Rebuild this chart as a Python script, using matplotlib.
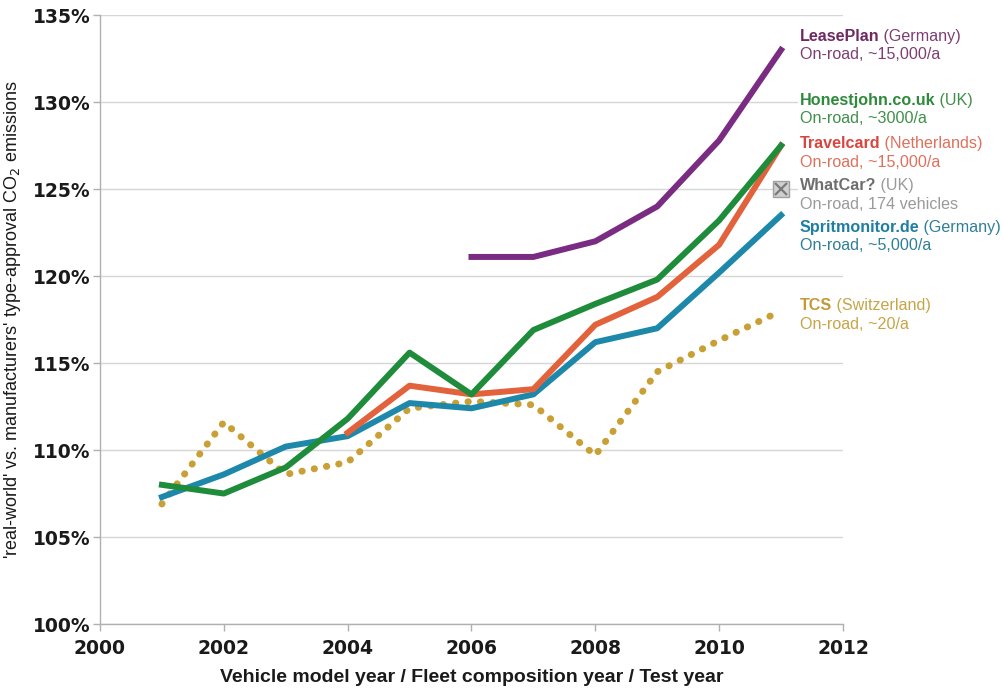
import matplotlib
matplotlib.use('Agg')
import matplotlib.pyplot as plt
from matplotlib.ticker import FuncFormatter

# data (ratio in %)
years = [2001, 2002, 2003, 2004, 2005, 2006, 2007, 2008, 2009, 2010, 2011]
leaseplan = [None, None, None, None, None, 121.1, 121.1, 122.0, 124.0, 127.8, 133.0]
honestjohn = [108.0, 107.5, 109.0, 111.8, 115.6, 113.2, 116.9, 118.4, 119.8, 123.2, 127.5]
travelcard = [None, None, None, 111.0, 113.7, 113.2, 113.5, 117.2, 118.8, 121.8, 127.5]
spritmonitor = [107.3, 108.6, 110.2, 110.8, 112.7, 112.4, 113.2, 116.2, 117.0, 120.2, 123.5]
tcs = [106.9, 111.6, 108.6, 109.3, 112.4, 112.8, 112.6, 109.7, 114.5, 116.3, 118.0]
whatcar_year = 2011
whatcar_val = 125.0

c_purple = '#7a2c82'
c_green = '#1f8c3b'
c_orange = '#e2623c'
c_blue = '#1d88aa'
c_gold = '#c9a035'


def pairs(vals):
    xs = [y for y, v in zip(years, vals) if v is not None]
    ys = [v for v in vals if v is not None]
    return xs, ys


fig = plt.figure(figsize=(10.04, 6.88), dpi=100)
ax = fig.add_axes([0.0996, 0.093, 0.74, 0.885])

ax.plot(*pairs(tcs), color=c_gold, lw=5, linestyle=(0, (0.05, 1.75)),
        dash_capstyle='round')
ax.plot(*pairs(spritmonitor), color=c_blue, lw=4.3)
ax.plot(*pairs(travelcard), color=c_orange, lw=4.3)
ax.plot(*pairs(honestjohn), color=c_green, lw=4.3)
ax.plot(*pairs(leaseplan), color=c_purple, lw=4.3)
ax.plot([whatcar_year], [whatcar_val], marker='s', ms=11, mfc='#cfcfcf',
        markeredgecolor='#a0a0a0', mew=1.0, linestyle='none')
ax.plot([whatcar_year], [whatcar_val], marker='x', ms=9, color='#7a7a7a',
        mew=1.6, linestyle='none')

ax.set_xlim(2000, 2012)
ax.set_ylim(100, 135)
ax.set_xticks(range(2000, 2013, 2))
ax.set_yticks(range(100, 136, 5))
ax.yaxis.set_major_formatter(FuncFormatter(lambda v, p: f'{v:.0f}%'))

ax.grid(axis='y', color='#d6d6d6', lw=1.0)
ax.set_axisbelow(True)
for s in ['top', 'right']:
    ax.spines[s].set_visible(False)
for s in ['left', 'bottom']:
    ax.spines[s].set_color('#b0b0b0')
    ax.spines[s].set_linewidth(1.0)
ax.tick_params(axis='both', colors='#b0b0b0', length=5, width=1.0,
               labelcolor='#1a1a1a', labelsize=13.5)
ax.tick_params(axis='x', pad=6)
ax.tick_params(axis='y', pad=2)
for lab in ax.get_xticklabels() + ax.get_yticklabels():
    lab.set_fontweight('bold')

ax.set_xlabel('Vehicle model year / Fleet composition year / Test year',
              fontsize=14, fontweight='bold', color='#1a1a1a', labelpad=8,
              family=['Liberation Sans Narrow', 'Liberation Sans', 'DejaVu Sans'])
ax.set_ylabel("'real-world' vs. manufacturers' type-approval CO$_2$ emissions",
              fontsize=13, color='#1a1a1a', labelpad=7,
              family=['Liberation Sans', 'DejaVu Sans'])

# series labels on the right
labels = [
    ('LeasePlan', ' (Germany)', 'On-road, ~15,000/a', 133.8, '#6e2a62', '#7d3f73'),
    ('Honestjohn.co.uk', ' (UK)', 'On-road, ~3000/a', 130.1, '#2f8a3c', '#3f8f4a'),
    ('Travelcard', ' (Netherlands)', 'On-road, ~15,000/a', 127.6, '#d9463f', '#e0705c'),
    ('WhatCar?', ' (UK)', 'On-road, 174 vehicles', 125.2, '#6e6e6e', '#9a9a9a'),
    ('Spritmonitor.de', ' (Germany)', 'On-road, ~5,000/a', 122.8, '#1f7fa0', '#2f7f98'),
    ('TCS', ' (Switzerland)', 'On-road, ~20/a', 118.3, '#c59a35', '#c8a448'),
]
fam = ['Liberation Sans', 'DejaVu Sans']
for name, extra, sub, yv, c1, c2 in labels:
    t = ax.text(2011.3, yv, name, fontsize=11.6, fontweight='bold', color=c1,
                family=fam, va='center', ha='left',
                bbox=dict(facecolor='white', edgecolor='none', pad=1.5))
    ax.annotate(extra, xy=(1, 0), xycoords=t, va='bottom', ha='left',
                fontsize=11.6, color=c2, family=fam,
                bbox=dict(facecolor='white', edgecolor='none', pad=0.5))
    ax.text(2011.3, yv - 1.07, sub, fontsize=11.6, color=c2, family=fam,
            va='center', ha='left',
            bbox=dict(facecolor='white', edgecolor='none', pad=1.5))

fig.savefig('out.png', dpi=100)
